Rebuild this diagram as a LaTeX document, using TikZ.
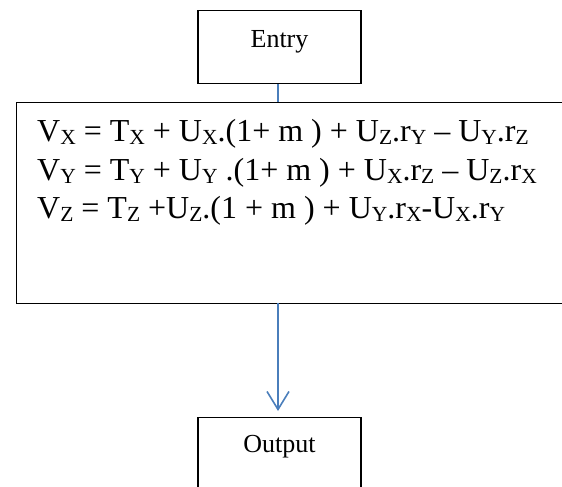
\documentclass[tikz,border=0pt]{standalone}
\usepackage{fontspec}
\setmainfont{Liberation Serif}
\usetikzlibrary{arrows.meta}
\definecolor{conblue}{HTML}{4A7EBB}
\newcommand\sbs[1]{\raisebox{-3.5pt}{\fontsize{21.5pt}{22pt}\selectfont #1}}
\tikzset{
  box/.style={draw=black, line width=1.1pt, inner sep=0pt},
  eqline/.style={anchor=base west, inner sep=0pt, font=\fontsize{32pt}{38pt}\selectfont},
  lbl/.style={font=\fontsize{26pt}{30pt}\selectfont},
  conn/.style={draw=conblue, line width=1.6pt},
}
\begin{document}
\begin{tikzpicture}[x=1pt,y=1pt]
\useasboundingbox (0,0) rectangle (562,-487);
\clip (0,0) rectangle (562,-487);
\node[box, lbl, anchor=north, minimum width=163pt, text height=36.7pt, text depth=36.3pt] (entry) at (279.5,-10) {Entry};
\node[box, anchor=north west, minimum width=600pt, minimum height=201pt] (eqbox) at (16,-102) {};
\node[eqline] (l1) at (37,-141) {V\sbs{X} = T\sbs{X} + U\sbs{X}.(1+ m ) + U\sbs{Z}.r\sbs{Y} – U\sbs{Y}.r\sbs{Z}};
\node[eqline] (l2) at (37,-180) {V\sbs{Y} = T\sbs{Y} + U\sbs{Y} .(1+ m ) + U\sbs{X}.r\sbs{Z} – U\sbs{Z}.r\sbs{X}};
\node[eqline] (l3) at (37,-218) {V\sbs{Z} = T\sbs{Z} +U\sbs{Z}.(1 + m ) + U\sbs{Y}.r\sbs{X}-U\sbs{X}.r\sbs{Y}};
\node[box, lbl, anchor=north, minimum width=163pt, text height=34.7pt, text depth=100pt] (output) at (279.5,-417) {Output};
\coordinate (ein) at (278,-102);
\coordinate (eout) at (278,-303);
\draw[conn] (entry.south -| ein) -- (ein);
\draw[conn, -{Straight Barb[length=18pt, width=22pt, line width=1.6pt]}] (eout) -- ([yshift=6pt]eout |- output.north);
\end{tikzpicture}
\end{document}
